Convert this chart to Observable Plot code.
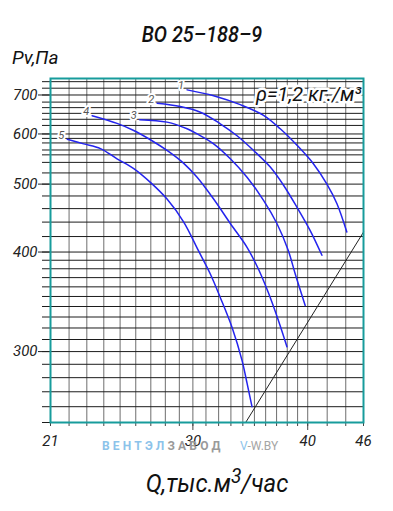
<!DOCTYPE html>
<html><head><meta charset="utf-8">
<script src="https://cdn.jsdelivr.net/npm/d3@7"></script>
<script src="https://cdn.jsdelivr.net/npm/@observablehq/plot@0.6"></script>
<style>
body{margin:0;background:#fff;}
#wrap{position:relative;width:393px;height:511px;font-family:Roboto,"DejaVu Sans",sans-serif;}
#wrap svg{position:absolute;left:0;top:0;}
.t{position:absolute;white-space:nowrap;color:#111;line-height:1;font-style:italic;font-weight:400;}
</style></head><body>
<div id="wrap"></div>
<script>
// ---- data ----
const titleText = "ВО 25–188–9";
const yTitle = "Pv,Па";
const densityLabel = "ρ=1,2 кг./м³";

const xGrid = [21,22,23,24,25,26,27,28,29,30,31,32,33,34,35,36,37,38,39,40,42,44,46];
const xMajor = [30,40];
const xLabels = [21,30,40,46];
const yGrid = [250,260,270,280,290,300,310,320,330,340,350,360,370,380,390,400,420,440,460,480,500,520,540,555,565,580,590,600,620,635,650,665,680,700,720,740];
const yLabels = [300,400,500,600,700];

const curveIds = ["1","2","3","4","5"];
const Q1 = [29.57,31.60,33.78,35.81,37.34,38.94,40.59,41.97,43.03,44.12];
const P1 = [715,698,673,645,612,575,537,500,468,426];
const Q2 = [27.43,29.07,30.57,32.13,33.51,34.93,36.42,37.65,38.94,40.25,41.45];
const P2 = [677,668,653,624,596,564,531,498,462,428,396];
const Q3 = [26.26,28.12,29.57,30.32,31.60,32.95,34.36,35.81,37.03,38.10,38.77,39.75];
const P3 = [634,628,612,600,578,547,512,473,438,402,374,341];
const Q4 = [23.31,24.81,25.87,26.97,28.12,29.32,30.32,31.60,32.95,34.36,35.34,36.24,37.16,37.97];
const P4 = [644,625,608,587,564,538,512,475,438,406,380,354,327,304];
const Q5 = [21.90,22.82,23.80,24.81,25.87,26.97,28.12,29.32,30.41,31.34,32.13,33.11,33.93,34.36,34.79];
const P5 = [588,578,568,547,528,503,475,440,402,374,349,320,293,276,260];
const sysQ = [34.24,46];
const sysP = [250,426];

// ---- build tables ----
const Qs = [Q1,Q2,Q3,Q4,Q5], Ps = [P1,P2,P3,P4,P5];
const curveRows = [];
const labelRows = [];
curveIds.forEach((id,i) => {
  Qs[i].forEach((q,j) => curveRows.push({id, q, p: Ps[i][j]}));
  labelRows.push({id, q: Qs[i][0], p: Ps[i][0]});
});
const sysRows = sysQ.map((q,i) => ({q, p: sysP[i]}));

const chart = Plot.plot({
  width: 393, height: 511,
  marginTop: 78, marginLeft: 50, marginRight: 30, marginBottom: 89,
  style: {fontFamily: "Roboto, 'DejaVu Sans', sans-serif", fontStyle: "italic", background: "transparent"},
  x: {type: "log", domain: [21, 46], label: null},
  y: {type: "pow", exponent: -0.5, domain: [250, 750], label: null},
  marks: [
    Plot.ruleX(xGrid, {stroke: "#6e6e6e", strokeWidth: 1}),
    Plot.ruleY(yGrid, {stroke: "#1c1c1c", strokeWidth: 1}),
    Plot.axisY(yGrid, {tickSize: 8, tickFormat: () => "", color: "#1c1c1c"}),
    Plot.axisY(yLabels, {tickSize: 12, tickPadding: 1, fontSize: 15, tickFormat: d => String(d), color: "#222", label: null}),
    Plot.axisX(xGrid, {tickSize: 4, tickFormat: () => "", color: "#444"}),
    Plot.axisX(xMajor, {tickSize: 8, tickFormat: () => "", color: "#444"}),
    Plot.text(xLabels, {x: d => d, text: d => String(d), frameAnchor: "bottom", lineAnchor: "top", dy: 13, fontSize: 15, fill: "#222"}),
    Plot.line(sysRows, {x: "q", y: "p", stroke: "#222", strokeWidth: 1}),
    Plot.line(curveRows, {x: "q", y: "p", z: "id", stroke: "#2424ee", strokeWidth: 1.5, curve: "catmull-rom"}),
    Plot.text(labelRows, {x: "q", y: "p", text: "id", dx: -6, dy: -4, fontSize: 11, fill: "#555", stroke: "white", strokeWidth: 4}),
    Plot.text([densityLabel], {frameAnchor: "top-right", dx: -2, dy: 8, fontSize: 20, fill: "#111", stroke: "white", strokeWidth: 5}),
    Plot.frame({stroke: "#179c9c", strokeWidth: 2})
  ]
});

const wrap = document.getElementById("wrap");
wrap.appendChild(chart);

function addText(html, css) {
  const d = document.createElement("div");
  d.className = "t";
  d.innerHTML = html;
  Object.assign(d.style, css);
  wrap.appendChild(d);
  return d;
}
addText(titleText, {left: "202px", top: "24px", fontSize: "22px", fontWeight: "500", transform: "translateX(-50%) scaleX(0.9)"});
addText(yTitle, {left: "12px", top: "48px", fontSize: "19px"});
addText("Q,тыс.м<span style='font-size:0.8em;vertical-align:0.45em'>3</span>/час", {left: "217px", top: "466px", fontSize: "26px", transform: "translateX(-50%) scaleX(0.92)"});
addText("<span style='color:#8cc3ea'>ВЕНТЭЛ</span><span style='color:#9a9a9a'>ЗАВОД</span>", {left: "102px", top: "440px", fontSize: "12px", fontStyle: "normal", fontWeight: "700", letterSpacing: "3.2px"});
addText("<span style='color:#8cc3ea'>V</span><span style='color:#a5a5a5'>-W.BY</span>", {left: "240px", top: "440px", fontSize: "12px", fontStyle: "normal"});
</script>
</body></html>
